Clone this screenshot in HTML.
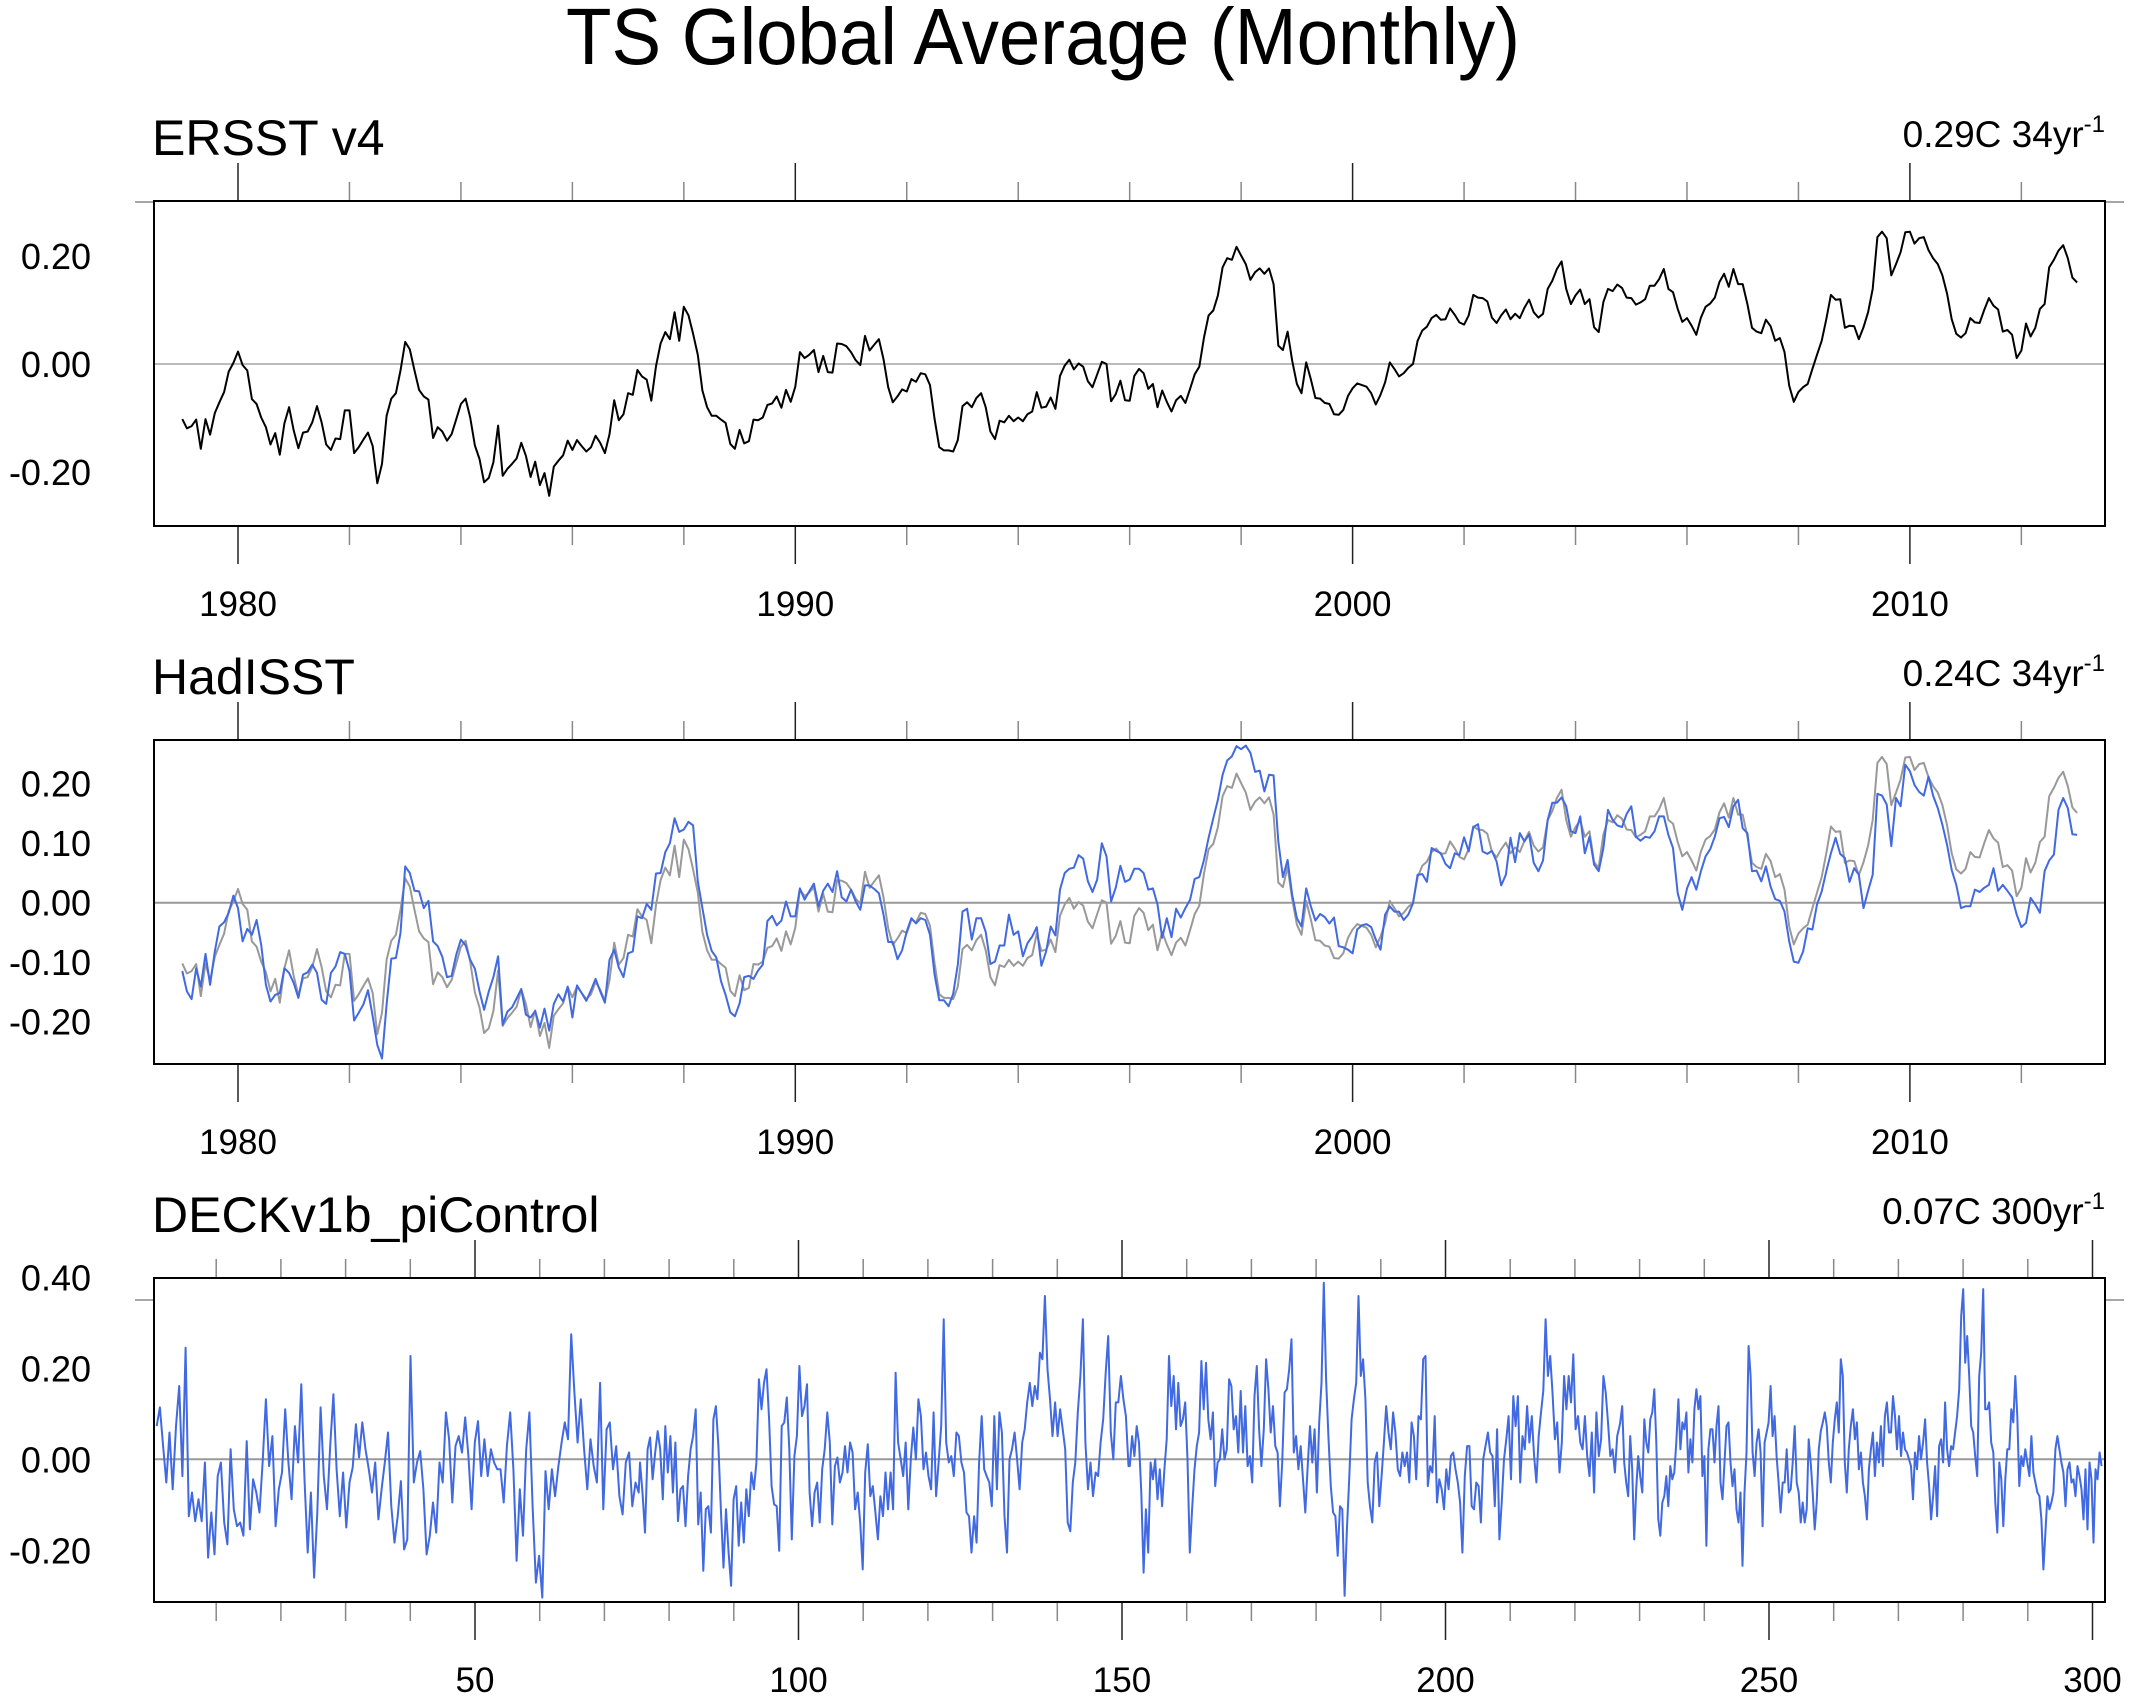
<!DOCTYPE html>
<html><head><meta charset="utf-8"><title>TS Global Average (Monthly)</title>
<style>
html,body{margin:0;padding:0;background:#fff;}
svg{display:block;font-family:"Liberation Sans",Arial,sans-serif;}
</style></head>
<body>
<svg id="chart" width="2152" height="1703" viewBox="0 0 2152 1703" xmlns="http://www.w3.org/2000/svg">
<rect x="0" y="0" width="2152" height="1703" fill="#fff"/>
<text x="1043" y="64" font-size="80" text-anchor="middle" textLength="954" lengthAdjust="spacingAndGlyphs">TS Global Average (Monthly)</text>
</svg>
<script>
// ERSST v4 monthly, starting Jan 1979
const ersst = [-0.102,-0.119,-0.115,-0.103,-0.157,-0.102,-0.131,-0.091,-0.071,-0.052,-0.014,0.002,0.023,-0.002,-0.012,-0.065,-0.074,-0.099,-0.117,-0.149,-0.128,-0.168,-0.110,-0.080,-0.123,-0.156,-0.127,-0.125,-0.108,-0.078,-0.108,-0.149,-0.159,-0.138,-0.139,-0.086,-0.086,-0.165,-0.154,-0.140,-0.127,-0.152,-0.221,-0.185,-0.096,-0.064,-0.054,-0.012,0.041,0.027,-0.012,-0.048,-0.060,-0.066,-0.137,-0.117,-0.125,-0.142,-0.130,-0.102,-0.074,-0.064,-0.099,-0.151,-0.176,-0.219,-0.211,-0.182,-0.114,-0.207,-0.194,-0.185,-0.175,-0.146,-0.170,-0.209,-0.181,-0.224,-0.202,-0.244,-0.190,-0.179,-0.169,-0.142,-0.159,-0.141,-0.152,-0.162,-0.154,-0.133,-0.146,-0.165,-0.130,-0.067,-0.104,-0.093,-0.054,-0.057,-0.011,-0.023,-0.029,-0.068,-0.004,0.038,0.059,0.046,0.096,0.043,0.106,0.090,0.056,0.017,-0.049,-0.080,-0.096,-0.096,-0.103,-0.109,-0.148,-0.157,-0.122,-0.147,-0.143,-0.103,-0.104,-0.099,-0.076,-0.073,-0.060,-0.081,-0.048,-0.070,-0.042,0.022,0.011,0.017,0.026,-0.015,0.015,-0.015,-0.016,0.038,0.037,0.033,0.022,0.007,-0.002,0.052,0.025,0.036,0.046,0.009,-0.043,-0.071,-0.060,-0.047,-0.051,-0.028,-0.033,-0.017,-0.019,-0.039,-0.102,-0.154,-0.160,-0.160,-0.162,-0.141,-0.078,-0.071,-0.080,-0.063,-0.054,-0.080,-0.125,-0.139,-0.105,-0.108,-0.096,-0.106,-0.099,-0.106,-0.093,-0.088,-0.052,-0.081,-0.079,-0.062,-0.083,-0.022,-0.003,0.008,-0.010,0.001,-0.005,-0.032,-0.043,-0.019,0.004,0.000,-0.069,-0.056,-0.031,-0.067,-0.068,-0.022,-0.009,
-0.017,-0.046,-0.037,-0.080,-0.049,-0.070,-0.088,-0.067,-0.059,-0.072,-0.046,-0.019,-0.005,0.049,0.090,0.099,0.127,0.179,0.196,0.193,0.217,0.201,0.185,0.156,0.170,0.177,0.167,0.177,0.148,0.034,0.026,0.060,0.006,-0.037,-0.054,0.003,-0.028,-0.063,-0.064,-0.072,-0.074,-0.093,-0.094,-0.085,-0.059,-0.045,-0.036,-0.039,-0.042,-0.054,-0.075,-0.057,-0.034,0.003,-0.009,-0.023,-0.017,-0.007,0.000,0.043,0.062,0.069,0.085,0.091,0.082,0.083,0.103,0.091,0.077,0.073,0.090,0.128,0.123,0.122,0.116,0.086,0.076,0.090,0.101,0.083,0.093,0.085,0.104,0.119,0.096,0.086,0.093,0.139,0.154,0.176,0.190,0.139,0.111,0.127,0.138,0.111,0.120,0.068,0.059,0.115,0.139,0.135,0.147,0.141,0.123,0.122,0.110,0.114,0.120,0.145,0.145,0.157,0.176,0.139,0.133,0.102,0.078,0.085,0.071,0.054,0.086,0.106,0.112,0.123,0.152,0.167,0.143,0.176,0.148,0.148,0.111,0.067,0.060,0.057,0.082,0.070,0.043,0.048,0.022,-0.040,-0.070,-0.052,-0.043,-0.037,-0.009,0.017,0.043,0.083,0.128,0.119,0.120,0.067,0.071,0.070,0.046,0.068,0.096,0.139,0.235,0.245,0.233,0.164,0.185,0.207,0.244,0.245,0.223,0.233,0.235,0.211,0.196,0.185,0.164,0.130,0.083,0.056,0.049,0.057,0.085,0.077,0.076,0.100,0.122,0.108,0.101,0.060,0.063,0.054,0.011,0.025,0.075,0.051,0.067,0.102,0.111,0.179,0.193,0.210,0.220,0.196,0.160,0.151];
// HadISST monthly, starting Jan 1979
const hadisst = [-0.115,-0.149,-0.162,-0.110,-0.141,-0.086,-0.138,-0.082,-0.040,-0.033,-0.017,0.012,-0.009,-0.065,-0.044,-0.054,-0.029,-0.071,-0.138,-0.166,-0.155,-0.152,-0.110,-0.118,-0.135,-0.160,-0.121,-0.117,-0.104,-0.118,-0.163,-0.170,-0.118,-0.107,-0.083,-0.086,-0.115,-0.198,-0.185,-0.171,-0.147,-0.191,-0.239,-0.262,-0.171,-0.094,-0.093,-0.051,0.061,0.050,0.020,0.019,-0.009,0.003,-0.065,-0.073,-0.091,-0.125,-0.123,-0.087,-0.062,-0.072,-0.096,-0.111,-0.149,-0.180,-0.149,-0.125,-0.090,-0.205,-0.183,-0.176,-0.161,-0.145,-0.188,-0.193,-0.182,-0.210,-0.178,-0.215,-0.170,-0.154,-0.166,-0.141,-0.193,-0.139,-0.152,-0.165,-0.147,-0.128,-0.149,-0.168,-0.096,-0.079,-0.109,-0.125,-0.085,-0.082,-0.023,-0.026,-0.002,-0.012,0.049,0.050,0.085,0.100,0.142,0.119,0.123,0.136,0.130,0.036,-0.009,-0.054,-0.081,-0.092,-0.132,-0.155,-0.184,-0.191,-0.169,-0.125,-0.123,-0.128,-0.114,-0.104,-0.031,-0.022,-0.038,-0.030,0.002,-0.023,-0.023,0.024,0.005,0.019,0.032,-0.006,0.020,0.032,0.018,0.053,0.009,0.002,0.022,0.002,-0.012,0.029,0.029,0.023,0.016,-0.020,-0.066,-0.066,-0.095,-0.080,-0.048,-0.026,-0.035,-0.026,-0.029,-0.054,-0.121,-0.164,-0.164,-0.174,-0.153,-0.104,-0.015,-0.010,-0.062,-0.026,-0.026,-0.049,-0.103,-0.099,-0.072,-0.072,-0.020,-0.054,-0.048,-0.090,-0.068,-0.057,-0.041,-0.106,-0.082,-0.040,-0.055,0.022,0.050,0.057,0.059,0.080,0.074,0.036,0.018,0.039,0.100,0.078,0.002,0.025,0.062,0.035,0.039,0.057,0.057,
0.050,0.022,0.024,-0.003,-0.059,-0.026,-0.058,-0.010,-0.025,-0.009,0.005,0.040,0.043,0.072,0.109,0.142,0.173,0.215,0.239,0.246,0.263,0.258,0.264,0.252,0.220,0.222,0.187,0.215,0.214,0.103,0.043,0.072,0.013,-0.026,-0.040,0.024,-0.006,-0.030,-0.019,-0.024,-0.035,-0.025,-0.073,-0.075,-0.079,-0.085,-0.045,-0.038,-0.036,-0.041,-0.062,-0.079,-0.020,-0.006,-0.015,-0.015,-0.029,-0.020,-0.001,0.047,0.048,0.035,0.092,0.087,0.083,0.065,0.058,0.083,0.080,0.110,0.086,0.127,0.132,0.086,0.082,0.087,0.069,0.029,0.047,0.109,0.068,0.117,0.103,0.115,0.067,0.053,0.071,0.139,0.168,0.168,0.177,0.162,0.120,0.117,0.145,0.083,0.111,0.064,0.053,0.092,0.156,0.139,0.130,0.127,0.149,0.162,0.111,0.104,0.111,0.109,0.120,0.145,0.145,0.114,0.092,0.016,-0.012,0.024,0.043,0.022,0.053,0.078,0.090,0.111,0.142,0.144,0.127,0.162,0.173,0.125,0.117,0.053,0.054,0.036,0.061,0.027,0.006,0.003,-0.015,-0.065,-0.099,-0.101,-0.082,-0.043,-0.045,-0.003,0.019,0.053,0.083,0.109,0.082,0.075,0.035,0.058,0.047,-0.009,0.020,0.047,0.183,0.180,0.165,0.095,0.176,0.162,0.232,0.221,0.198,0.186,0.180,0.212,0.180,0.159,0.131,0.097,0.055,0.030,-0.009,-0.006,-0.006,0.022,0.018,0.025,0.030,0.058,0.020,0.030,0.020,0.009,-0.020,-0.041,-0.034,0.008,-0.003,-0.017,0.053,0.071,0.081,0.156,0.176,0.159,0.115,0.114];
// DECKv1b_piControl, four consecutive segments read across the record
const piYears = [[0.8,75.3],[75.5,151.0],[151.2,226.9],[227.0,301.4]];
const pi1 = [0.073,0.114,0.029,-0.051,0.059,-0.066,0.073,0.161,-0.037,0.245,-0.125,-0.073,-0.136,-0.088,-0.136,-0.007,-0.216,-0.117,-0.209,-0.037,-0.007,-0.139,-0.187,0.022,-0.110,-0.147,-0.139,-0.168,0.040,-0.154,-0.044,-0.073,-0.117,-0.004,0.132,-0.015,0.051,-0.147,-0.066,-0.029,0.110,-0.007,-0.088,0.073,-0.007,0.165,-0.044,-0.205,-0.073,-0.260,-0.117,0.114,-0.037,-0.110,0.029,0.143,-0.022,-0.125,-0.029,-0.150,-0.051,-0.018,0.077,0.004,0.081,0.022,-0.022,-0.073,-0.007,-0.132,-0.066,-0.007,0.059,-0.103,-0.183,-0.125,-0.048,-0.198,-0.176,0.227,-0.051,-0.007,0.018,-0.066,-0.209,-0.168,-0.095,-0.161,-0.007,-0.051,0.103,0.044,-0.095,0.029,0.051,0.015,0.092,0.007,-0.110,0.037,0.084,-0.037,0.044,-0.037,0.022,-0.007,-0.022,-0.022,-0.095,0.029,0.103,-0.022,-0.223,-0.066,-0.168,0.022,0.103,-0.103,-0.271,-0.212,-0.304,-0.026,-0.110,-0.022,-0.081,-0.015,0.037,0.081,0.044,0.275,0.147,0.037,0.132,0.022,-0.066,0.044,-0.015,-0.051,0.168,-0.110,0.066,0.081,-0.022,0.029,-0.081,-0.121,-0.007,0.015,-0.103,-0.051,-0.073];
const pi2 = [-0.007,-0.073,-0.161,0.022,0.048,-0.044,0.015,0.062,0.022,-0.088,0.073,-0.029,0.051,-0.073,0.037,-0.136,-0.066,-0.059,-0.147,-0.037,0.022,0.051,0.110,-0.143,-0.073,-0.245,-0.110,-0.103,-0.161,0.088,0.117,0.029,-0.117,-0.238,-0.110,-0.205,-0.278,-0.088,-0.059,-0.190,-0.095,-0.183,-0.066,-0.125,-0.029,-0.066,-0.007,0.176,0.110,0.168,0.198,0.088,-0.059,-0.099,-0.103,-0.201,0.073,0.081,0.136,0.022,-0.176,0.007,0.051,0.205,0.095,0.117,0.165,-0.073,-0.147,-0.073,-0.051,-0.139,-0.022,0.022,0.103,0.037,-0.143,-0.015,0.004,-0.051,-0.029,0.029,-0.029,0.037,0.015,-0.110,-0.073,-0.139,-0.242,-0.029,0.033,-0.081,-0.059,-0.117,-0.176,-0.081,-0.125,-0.029,-0.110,-0.029,-0.110,0.190,0.037,0,-0.037,0.037,-0.110,0,0.070,0,0.132,0.095,-0.022,0.015,-0.037,-0.066,0.103,-0.081,-0.007,0.073,0.308,0.037,-0.007,0.007,-0.037,0.059,0.051,-0.007,-0.029,-0.117,-0.125,-0.205,-0.125,-0.183,-0.007,0.095,-0.022,-0.037,-0.051,-0.103,0.095,-0.066,0.103,0.059,-0.125,-0.205,0,0.022,0.059,0,-0.066,0.037,0.066,0.125,0.168,0.117,0.161,0.132,0.234,0.220,0.359,0.198,0.132,0.051,0.125,0.051,0.110,0.066,0.022,-0.139,-0.158,-0.051,-0.007,0.103,0.183,0.308,0.037,-0.066,-0.007,-0.081,-0.029,-0.037,0.037,0.088,0.190,0.271,0.059,0,0.125,0.125,0.183,0.132,0.095,-0.015];
const pi3 = [-0.015,0.051,0.007,0.073,0.037,-0.073,-0.249,-0.110,-0.205,-0.007,-0.044,0,-0.088,-0.022,-0.103,-0.022,0.044,0.227,0.117,0.183,0.066,0.168,0.073,0.088,0.125,0,-0.205,-0.110,-0.022,0.029,0.059,0.216,0.110,0.212,0.088,0.044,0.103,-0.059,-0.007,0,0.066,0,0.022,0.176,0.161,0.066,0.095,0.015,0.150,0.015,0.117,-0.015,0.007,-0.051,0.139,0.205,0.066,-0.015,0.066,0.220,0.154,0.059,0.117,0.029,0.015,-0.103,-0.007,0.147,0.154,0.198,0.264,0.015,0.051,-0.022,0.029,-0.044,-0.117,-0.015,0.073,-0.007,0.066,-0.073,0.081,0.168,0.388,0.176,0.051,-0.059,-0.117,-0.125,-0.212,-0.103,-0.110,-0.300,-0.154,-0.044,0.088,0.132,0.168,0.359,0.183,0.220,0.132,-0.051,-0.103,-0.139,-0.007,0.015,-0.103,-0.037,0.037,0.117,0.059,0.022,0.103,0.059,-0.022,-0.037,0.015,-0.015,0.015,-0.051,0.081,0.051,-0.044,0.095,0.088,0.220,0.227,-0.059,-0.015,-0.029,0.095,-0.095,-0.044,-0.066,-0.110,-0.022,-0.066,0.007,0.015,-0.022,-0.051,-0.095,-0.205,-0.037,0.029,0.029,-0.103,-0.110,-0.051,-0.059,-0.139,0,0.029,0.059,0.015,0.007,-0.103,0.066,-0.176,-0.095,0,0.044,0.095,-0.044,0.139,0.073,0.139,-0.051,0.051,0.022,0.117,0.037,0.095,0.007,-0.051,0.051,0.103,0.150,0.308,0.183,0.227,0.147,0.044,0.081,-0.029,0.037,0.183,0.110,0.183,0.125,0.231,0.066,0.095,0.037,0.022,0.095,0.007,-0.037,0.059,-0.073,0.103,0.007,0.044,0.183,0.147,0.081,0.007,0.022,-0.029,0.051,0.073];
const pi4 = [0.081,0.117,-0.007,-0.051,-0.081,0.051,-0.022,-0.176,-0.066,0.007,-0.037,-0.073,0.088,0.037,0.015,0.088,0.103,0.154,0.037,-0.132,-0.168,-0.095,-0.081,-0.037,-0.103,-0.015,-0.044,-0.029,0.037,0.132,0.022,0.081,0.066,0.103,-0.029,0.044,-0.007,0.110,0.154,0.110,0.139,-0.037,0.007,-0.190,0.022,0.066,0.066,-0.007,0.073,0.117,-0.051,-0.088,-0.007,0.073,0.081,-0.007,-0.059,-0.022,-0.110,-0.139,-0.073,-0.234,-0.073,0.015,0.249,0.183,0.015,-0.037,0.037,0.066,0.015,-0.147,0.037,0.059,0.081,0.161,0.051,0.095,0.007,-0.051,-0.117,-0.051,-0.051,0.022,-0.073,-0.066,-0.007,0.073,-0.051,-0.073,-0.139,-0.095,-0.139,-0.110,0.044,-0.007,-0.073,-0.154,-0.095,0.022,0.062,0.081,0.103,0.073,-0.007,-0.051,0.037,0.088,0.125,0.059,0.220,0.183,-0.007,-0.073,0.022,0.073,0.110,0.044,0.081,-0.022,0.015,-0.051,-0.081,-0.132,-0.022,0.022,0.059,-0.037,0.037,-0.007,0.073,-0.015,0.095,0.125,0.059,0.059,0.139,0.095,0.022,0.095,0.007,0.059,0.022,0.015,0,-0.015,-0.088,0.015,-0.022,0.051,0,0.037,0.088,-0.007,-0.059,-0.132,-0.081,-0.015,-0.125,0.029,0.044,-0.007,0.125,0.022,-0.015,0.029,0.022,0.059,0.095,0.154,0.315,0.374,0.212,0.271,0.183,0.073,0.059,0.007,-0.037,0.183,0.234,0.374,0.110,0.110,0.125,0.037,0.015,-0.095,-0.161,-0.007,-0.044,-0.147,-0.044,0.022,0.022,0.110,0.081,0.183,0.095,-0.059,0.007,-0.015,0.022,-0.007,-0.037,0.051,-0.029,-0.051,-0.073,-0.081,-0.132,-0.242,-0.161,-0.081,-0.110,-0.095,-0.073,0.022,0.051,0.022,-0.007,-0.029,-0.103,-0.022,-0.007,-0.051,-0.044,-0.081,-0.015,-0.037,-0.066,-0.132,-0.022,-0.154,-0.007,-0.044,-0.183,-0.022,-0.044,0.015,-0.015];
const yearTicks = [1980,1990,2000,2010];
const ctlTicks = [50,100,150,200,250,300];
const panelTitles = ["ERSST v4","HadISST","DECKv1b_piControl"];
const trendText = ["0.29C 34yr","0.24C 34yr","0.07C 300yr"];

const NS = "http://www.w3.org/2000/svg";
const svg = document.getElementById('chart');
function mk(tag, attrs, parent){
  const e = document.createElementNS(NS, tag);
  for (const k in attrs) e.setAttribute(k, attrs[k]);
  (parent||svg).appendChild(e);
  return e;
}
const L = 154, R = 2105;
function yearX(yr){ return 238 + (yr - 1980) * 55.73; }
function ctlX(yr){ return 475 + (yr - 50) * 6.47; }

const panels = [
  {top:201, bot:526, zeroY:364, scale:540, major:0.2, minor:0.05, labels:[-0.2,0,0.2], zeroColor:'#bbb', xfn:yearX, xmin:1978, xmax:2014, xMajor:10, xMinor:2, xtickVals:yearTicks},
  {top:740, bot:1064, zeroY:902.7, scale:595, major:0.1, minor:0.02, labels:[-0.2,-0.1,0,0.1,0.2], zeroColor:'#999', xfn:yearX, xmin:1978, xmax:2014, xMajor:10, xMinor:2, xtickVals:yearTicks},
  {top:1278, bot:1602, zeroY:1459.3, scale:455, major:0.2, minor:0.05, labels:[-0.2,0,0.2,0.4], zeroColor:'#999', xfn:ctlX, xmin:0, xmax:302, xMajor:50, xMinor:10, xtickVals:ctlTicks}
];

panels.forEach((p, pi) => {
  const g = mk('g', {});
  
  
  const yv = v => p.zeroY - v * p.scale;
  const vmin = (p.zeroY - p.bot) / p.scale * -1, vmax = (p.zeroY - p.top) / p.scale;
  const nMin = Math.ceil(vmin / p.minor - 1e-6), nMax = Math.floor(vmax / p.minor + 1e-6);
  for (let k = nMin; k <= nMax; k++) {
    const v = k * p.minor;
    const isMajor = Math.abs(v / p.major - Math.round(v / p.major)) < 1e-6;
    const len = isMajor ? 37 : 19;
    const y = yv(v);
    const col = isMajor ? '#222' : '#888';
    const t1 = mk('line', {x1:L-len, x2:L, y1:y, y2:y, stroke:col, 'stroke-width':1.5}, g);
    
    
    const t2 = mk('line', {x1:R, x2:R+len, y1:y, y2:y, stroke:col, 'stroke-width':1.5}, g);
    
    
  }
  p.labels.forEach(v => {
    const t = mk('text', {x:91, y:yv(v)+13, 'font-size':36, 'text-anchor':'end'}, g);
    t.textContent = v.toFixed(2);
    
    
  });
  for (let xv = Math.ceil(p.xmin / p.xMinor) * p.xMinor; xv <= p.xmax; xv += p.xMinor) {
    const x = p.xfn(xv);
    if (x < L - 0.5 || x > R + 0.5) continue;
    const isMajor = xv % p.xMajor === 0;
    const len = isMajor ? 38 : 19;
    const col = isMajor ? '#222' : '#888';
    const a = mk('line', {x1:x, x2:x, y1:p.top-len, y2:p.top, stroke:col, 'stroke-width':1.5}, g);
    
    
    const b = mk('line', {x1:x, x2:x, y1:p.bot, y2:p.bot+len, stroke:col, 'stroke-width':1.5}, g);
    
    
  }
  p.xtickVals.forEach(v => {
    const t = mk('text', {x:p.xfn(v), y:p.bot+90, 'font-size':35, 'text-anchor':'middle'}, g);
    t.textContent = String(v);
    
    
  });
  const z = mk('line', {x1:L, x2:R, y1:p.zeroY, y2:p.zeroY, stroke:p.zeroColor, 'stroke-width':2}, g);
  
  
  const tt = mk('text', {x:152, y:p.top-46, 'font-size':50}, g);
  tt.textContent = panelTitles[pi];
  
  
  const tr = mk('text', {x:R, y:p.top-54, 'font-size':37, 'text-anchor':'end'}, g);
  
  
  const s1 = mk('tspan', {}, tr); s1.textContent = trendText[pi];
  const s2 = mk('tspan', {dy:-15, 'font-size':24}, tr); s2.textContent = '-1';
  p.yv = yv;
  p.g = g;
});

function monthlyPath(vals, p, startYr){
  let d = '';
  vals.forEach((v, i) => {
    const x = p.xfn(startYr + i / 12), y = p.yv(v);
    d += (i ? 'L' : 'M') + x.toFixed(1) + ' ' + y.toFixed(1);
  });
  return d;
}
const l1 = mk('path', {d:monthlyPath(ersst, panels[0], 1979), fill:'none', stroke:'#000', 'stroke-width':2, 'stroke-linejoin':'round'}, panels[0].g);


const l2 = mk('path', {d:monthlyPath(ersst, panels[1], 1979), fill:'none', stroke:'#999', 'stroke-width':2, 'stroke-linejoin':'round'}, panels[1].g);


const l3 = mk('path', {d:monthlyPath(hadisst, panels[1], 1979), fill:'none', stroke:'#4169e1', 'stroke-width':2, 'stroke-linejoin':'round'}, panels[1].g);


const segs = [pi1, pi2, pi3, pi4];
let d3 = '';
segs.forEach((seg, si) => {
  const y0 = piYears[si][0], y1 = piYears[si][1];
  seg.forEach((v, i) => {
    const yr = y0 + (y1 - y0) * i / (seg.length - 1);
    const x = ctlX(yr), y = panels[2].yv(v);
    d3 += (d3 ? 'L' : 'M') + x.toFixed(1) + ' ' + y.toFixed(1);
  });
});
const l4 = mk('path', {d:d3, fill:'none', stroke:'#4169e1', 'stroke-width':2, 'stroke-linejoin':'round'}, panels[2].g);


panels.forEach((p, pi) => {
  const f = mk('rect', {x:L, y:p.top, width:R-L, height:p.bot-p.top, fill:'none', stroke:'#000', 'stroke-width':2}, p.g);
  
  
});
</script>
</body></html>
